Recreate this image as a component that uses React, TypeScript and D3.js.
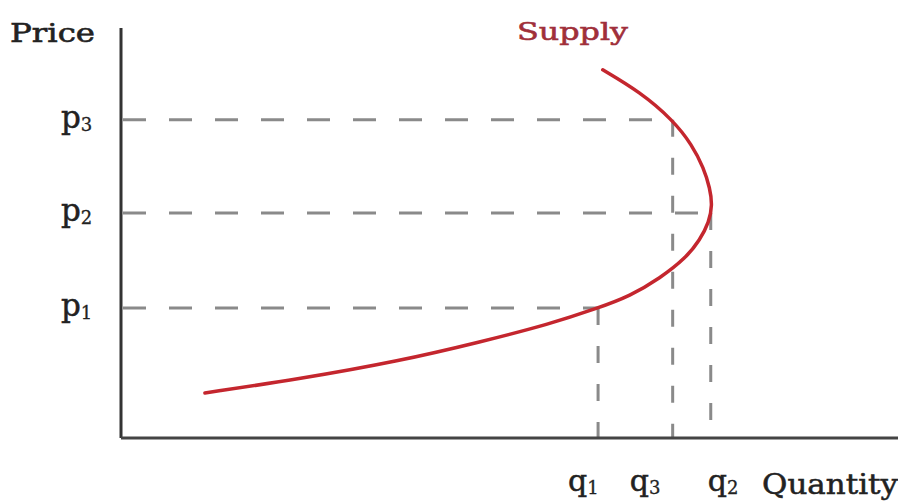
import React from "react";
import * as d3 from "d3";

// Supply curve points (quantity, price) on a 0-100 scale
const supplyQ = [10.8, 23.0, 35.9, 46.2, 55.2, 61.4, 65.5, 69.4, 72.7, 74.5, 75.7, 76.1, 75.8, 75.0, 73.5, 71.0, 66.8, 62.0];
const supplyP = [11.0, 14.4, 18.8, 23.4, 27.8, 31.7, 34.6, 39.0, 43.9, 48.3, 52.7, 56.8, 60.9, 65.8, 71.5, 77.6, 84.4, 89.8];

// Reference levels
const priceLabels = ["3", "2", "1"];
const priceValues = [77.6, 54.9, 31.7];
const quantityForPrice = [71.0, 75.9, 61.4];
const qLabels = ["1", "3", "2"];
const qValues = [61.4, 71.0, 75.9];

const W = 898;
const H = 503;
const FONT = "'DejaVu Serif', 'Liberation Serif', serif";

export default function App() {
  const x = d3.scaleLinear().domain([0, 100]).range([121, 898]);
  const y = d3.scaleLinear().domain([0, 100]).range([438, 28]);

  const pts: [number, number][] = supplyQ.map((q, i) => [q, supplyP[i]]);
  const line = d3
    .line<[number, number]>()
    .x((d) => x(d[0]))
    .y((d) => y(d[1]))
    .curve(d3.curveBasis);

  const dashColor = "#8a8a8a";
  const qOffsets = [-30, -43, -3];

  return (
    <svg width={W} height={H} style={{ position: "absolute", left: 0, top: 0, background: "#fff" }}>
      {/* dashed horizontal lines */}
      {priceValues.map((p, i) => (
        <line
          key={"h" + i}
          x1={x(0) + 2}
          x2={x(quantityForPrice[i])}
          y1={y(p)}
          y2={y(p)}
          stroke={dashColor}
          strokeWidth={3}
          strokeDasharray="23 23"
        />
      ))}
      {/* dashed vertical lines */}
      {priceValues.map((p, i) => (
        <line
          key={"v" + i}
          x1={x(quantityForPrice[i])}
          x2={x(quantityForPrice[i])}
          y1={y(p)}
          y2={y(0)}
          stroke={dashColor}
          strokeWidth={3}
          strokeDasharray="17 21"
        />
      ))}
      {/* axes */}
      <line x1={x(0)} x2={x(0)} y1={y(100)} y2={y(0)} stroke="#333" strokeWidth={3} />
      <line x1={x(0)} x2={x(100)} y1={y(0)} y2={y(0)} stroke="#444" strokeWidth={3} />
      {/* supply curve */}
      <path d={line(pts) || ""} fill="none" stroke="#c4262e" strokeWidth={3.5} strokeLinecap="round" />

      {/* labels */}
      <text x={10} y={42} fontFamily={FONT} fontSize={26} fill="#222" stroke="#222" strokeWidth={0.6} textLength={85} lengthAdjust="spacingAndGlyphs">
        Price
      </text>
      <text x={517} y={40} fontFamily={FONT} fontSize={25} fill="#a02f3a" stroke="#a02f3a" strokeWidth={0.6} textLength={111} lengthAdjust="spacingAndGlyphs">
        Supply
      </text>
      {priceValues.map((p, i) => (
        <text key={"pl" + i} x={61} y={y(p) + 8} fontFamily={FONT} fontSize={31} fill="#222" stroke="#222" strokeWidth={0.5}>
          p
          <tspan fontSize={18} dy={3} strokeWidth={0.3}>
            {priceLabels[i]}
          </tspan>
        </text>
      ))}
      {qValues.map((q, i) => (
        <text key={"ql" + i} x={x(q) + qOffsets[i]} y={491} fontFamily={FONT} fontSize={30} fill="#222" stroke="#222" strokeWidth={0.5}>
          q
          <tspan fontSize={18} dy={3} strokeWidth={0.3}>
            {qLabels[i]}
          </tspan>
        </text>
      ))}
      <text x={762} y={494} fontFamily={FONT} fontSize={27} fill="#222" stroke="#222" strokeWidth={0.5} textLength={136} lengthAdjust="spacingAndGlyphs">
        Quantity
      </text>
    </svg>
  );
}
